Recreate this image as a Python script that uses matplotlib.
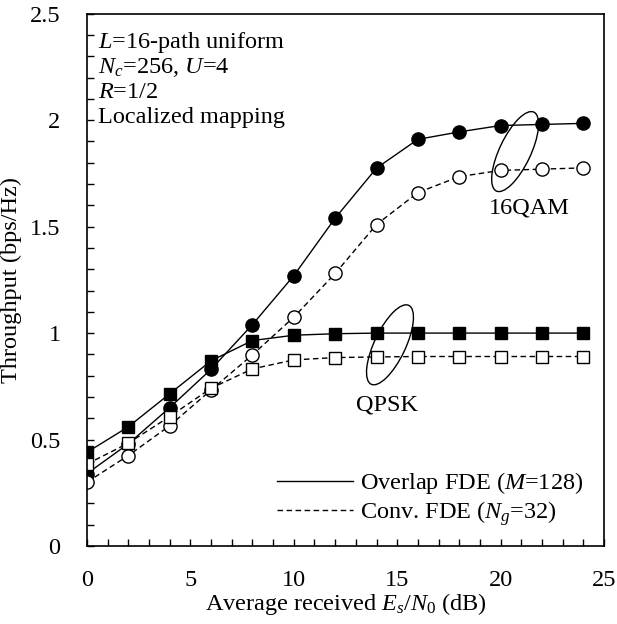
import matplotlib
matplotlib.use('Agg')
import matplotlib.pyplot as plt
from matplotlib.patches import Ellipse
from matplotlib.lines import Line2D

plt.rcParams['font.family'] = ['Liberation Serif', 'DejaVu Serif']
plt.rcParams['mathtext.fontset'] = 'custom'
plt.rcParams['mathtext.rm'] = 'Liberation Serif'
plt.rcParams['mathtext.it'] = 'Liberation Serif:italic'
plt.rcParams['font.size'] = 17.5

# Average received Es/N0 (dB)
snr_db = [0, 2, 4, 6, 8, 10, 12, 14, 16, 18, 20, 22, 24]

# Throughput (bps/Hz)
qam16_overlap = [0.34, 0.48, 0.65, 0.83, 1.04, 1.27, 1.54, 1.775, 1.91, 1.945, 1.975, 1.98, 1.985]
qam16_conv = [0.30, 0.425, 0.565, 0.733, 0.898, 1.075, 1.28, 1.51, 1.66, 1.735, 1.764, 1.77, 1.776]
qpsk_overlap = [0.44, 0.56, 0.715, 0.87, 0.965, 0.99, 0.997, 1.0, 1.0, 1.0, 1.0, 1.0, 1.0]
qpsk_conv = [0.385, 0.483, 0.608, 0.741, 0.832, 0.874, 0.885, 0.888, 0.89, 0.89, 0.89, 0.89, 0.89]

legend_labels = ['Overlap FDE ($M$=128)', 'Conv. FDE ($N_g$=32)']
info_lines = ['$L$=16-path uniform', '$N_c$=256, $U$=4', '$R$=1/2', 'Localized mapping']

fig = plt.figure(figsize=(6.17, 6.24), dpi=100)
ax = fig.add_axes([0.141, 0.125, 0.838, 0.853])

lw = 1.0
dash = (4, 2.5)

# overlap FDE: solid lines, filled markers
ax.plot(snr_db, qam16_overlap, '-', color='black', lw=lw, marker='o', ms=9.5,
        mfc='black', mec='black')
ax.plot(snr_db, qpsk_overlap, '-', color='black', lw=lw, marker='s', ms=8.5,
        mfc='black', mec='black')
# conventional FDE: dashed lines, open markers
ax.plot(snr_db, qam16_conv, '--', dashes=dash, color='black', lw=lw, marker='o', ms=9.5,
        mfc='white', mec='black', mew=1.0)
ax.plot(snr_db, qpsk_conv, '--', dashes=dash, color='black', lw=lw, marker='s', ms=8.5,
        mfc='white', mec='black', mew=1.0)

ax.set_xlim(0, 25)
ax.set_ylim(0, 2.5)
ax.set_xticks([0, 5, 10, 15, 20, 25])
ax.set_xticklabels(['0', '5', '10', '15', '20', '25'])
ax.set_yticks([0, 0.5, 1, 1.5, 2, 2.5])
ax.set_yticklabels(['0', '0.5', '1', '1.5', '2', '2.5'])
ax.set_xticks(range(0, 26), minor=True)
ax.set_yticks([i / 10 for i in range(26)], minor=True)
ax.tick_params(which='both', direction='in', length=5, width=1, top=False, right=False)
ax.tick_params(axis='x', which='major', pad=17.5)
ax.tick_params(axis='y', which='major', pad=19)
for sp in ax.spines.values():
    sp.set_linewidth(1.2)

ax.set_xlabel('Average received $E_s$/$N_0$ (dB)')
ax.set_ylabel('Throughput (bps/Hz)')
ax.xaxis.set_label_coords(0.5, -0.085)
ax.yaxis.set_label_coords(-0.126, 0.5)

# info block in the upper left
for i, txt in enumerate(info_lines):
    ax.text(0.021, 0.936 - i * 0.047, txt, transform=ax.transAxes, ha='left', va='baseline')

# group ellipses and labels
for cx, cy in [(0.828, 0.741), (0.586, 0.378)]:
    ax.add_patch(Ellipse((cx, cy), 0.165, 0.06, angle=63.7, transform=ax.transAxes,
                         fill=False, ec='black', lw=1.0))
ax.text(0.855, 0.635, '16QAM', transform=ax.transAxes, ha='center', va='center')
ax.text(0.580, 0.265, 'QPSK', transform=ax.transAxes, ha='center', va='center')

# legend shows line styles only
handles = [Line2D([], [], color='black', lw=lw, ls='-'),
           Line2D([], [], color='black', lw=lw, ls='--', dashes=dash)]
ax.legend(handles, legend_labels, loc='lower right', bbox_to_anchor=(0.979, 0.016),
          frameon=False, handlelength=3.1, handletextpad=0.3, labelspacing=0.12,
          borderaxespad=0)

fig.savefig('out.png', dpi=100)
